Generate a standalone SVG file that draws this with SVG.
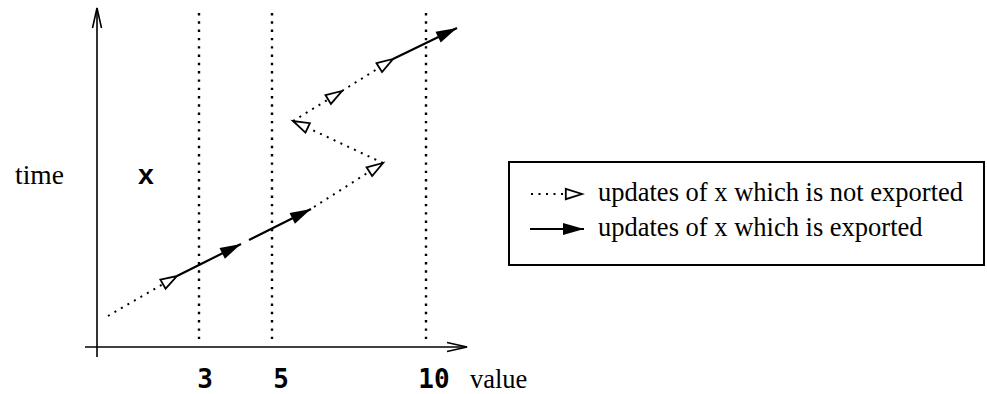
<svg xmlns="http://www.w3.org/2000/svg" width="987" height="394" viewBox="0 0 987 394">
  <style>
    .axis { stroke: #000; stroke-width: 1.6; fill: none; }
    .grid { stroke: #000; stroke-width: 2.4; stroke-dasharray: 2.4 5.9; fill: none; }
    .dot { stroke: #000; stroke-width: 2; stroke-dasharray: 2 5.5; fill: none; marker-end: url(#open-tri); }
    .solid { stroke: #000; stroke-width: 2.2; fill: none; marker-end: url(#filled-tri); }
    .serif { font-family: "Liberation Serif", "Times New Roman", serif; fill: #000; }
    .mono { font-family: "DejaVu Sans Mono", "Liberation Mono", monospace; font-weight: bold; fill: #000; }
    .var { font-family: "Liberation Mono", "Courier New", monospace; font-weight: bold; fill: #000; }
  </style>
  <defs>
    <!-- open V head for the axes -->
    <marker id="axis-head" markerUnits="userSpaceOnUse" viewBox="0 0 22 10" markerWidth="22" markerHeight="10" refX="20" refY="5" orient="auto" overflow="visible">
      <path d="M0,0.5 L20,5 L0,9.5" fill="none" stroke="#000" stroke-width="1.6"/>
    </marker>
    <!-- hollow triangle: update not exported -->
    <marker id="open-tri" markerUnits="userSpaceOnUse" viewBox="0 0 18 12" markerWidth="18" markerHeight="12" refX="17" refY="6" orient="auto" overflow="visible">
      <path d="M0.8,0.8 L17,6 L0.8,11.2 Z" fill="#fff" stroke="#000" stroke-width="1.8"/>
    </marker>
    <!-- filled triangle: update exported -->
    <marker id="filled-tri" markerUnits="userSpaceOnUse" viewBox="0 0 21 12" markerWidth="21" markerHeight="12" refX="21" refY="6" orient="auto" overflow="visible">
      <path d="M0,0 L21,6 L0,12 Z" fill="#000"/>
    </marker>
  </defs>

  <!-- axes -->
  <g id="axes">
    <line class="axis" x1="97" y1="357" x2="97" y2="8" marker-end="url(#axis-head)"/>
    <line class="axis" x1="85" y1="347" x2="467" y2="347" marker-end="url(#axis-head)"/>
  </g>

  <!-- threshold lines at 3, 5 and 10 -->
  <g id="thresholds">
    <line class="grid" x1="199" y1="13" x2="199" y2="344"/>
    <line class="grid" x1="272" y1="13" x2="272" y2="344"/>
    <line class="grid" x1="426" y1="13" x2="426" y2="344"/>
  </g>

  <!-- trajectory of x over time -->
  <g id="updates">
    <line class="dot" x1="108" y1="316" x2="177" y2="276"/>
    <line class="solid" x1="177" y1="276" x2="241" y2="244"/>
    <line class="solid" x1="249" y1="240" x2="311" y2="209"/>
    <line class="dot" x1="314" y1="207" x2="383" y2="163"/>
    <line class="dot" x1="383" y1="163" x2="293" y2="121"/>
    <line class="dot" x1="293" y1="121" x2="342" y2="91"/>
    <line class="dot" x1="342" y1="91" x2="393" y2="59"/>
    <line class="solid" x1="393" y1="59" x2="457" y2="28"/>
  </g>

  <!-- axis labels -->
  <g id="labels">
    <text class="serif" x="15" y="184" font-size="27.5">time</text>
    <text class="var" x="146" y="184" font-size="28" text-anchor="middle">x</text>
    <text class="mono" x="205" y="388" font-size="26" text-anchor="middle">3</text>
    <text class="mono" x="281" y="388" font-size="26" text-anchor="middle">5</text>
    <text class="mono" x="434" y="388" font-size="26" text-anchor="middle">10</text>
    <text class="serif" x="470" y="388" font-size="26.5">value</text>
  </g>

  <!-- legend -->
  <g id="legend">
    <rect x="509" y="162" width="475" height="103" fill="#fff" stroke="#000" stroke-width="2"/>
    <line class="dot" x1="531" y1="194" x2="582" y2="194"/>
    <text class="serif" x="598" y="201" font-size="26.5">updates of x which is not exported</text>
    <line class="solid" x1="530" y1="229" x2="584" y2="229"/>
    <text class="serif" x="598" y="236" font-size="26.5">updates of x which is exported</text>
  </g>
</svg>
